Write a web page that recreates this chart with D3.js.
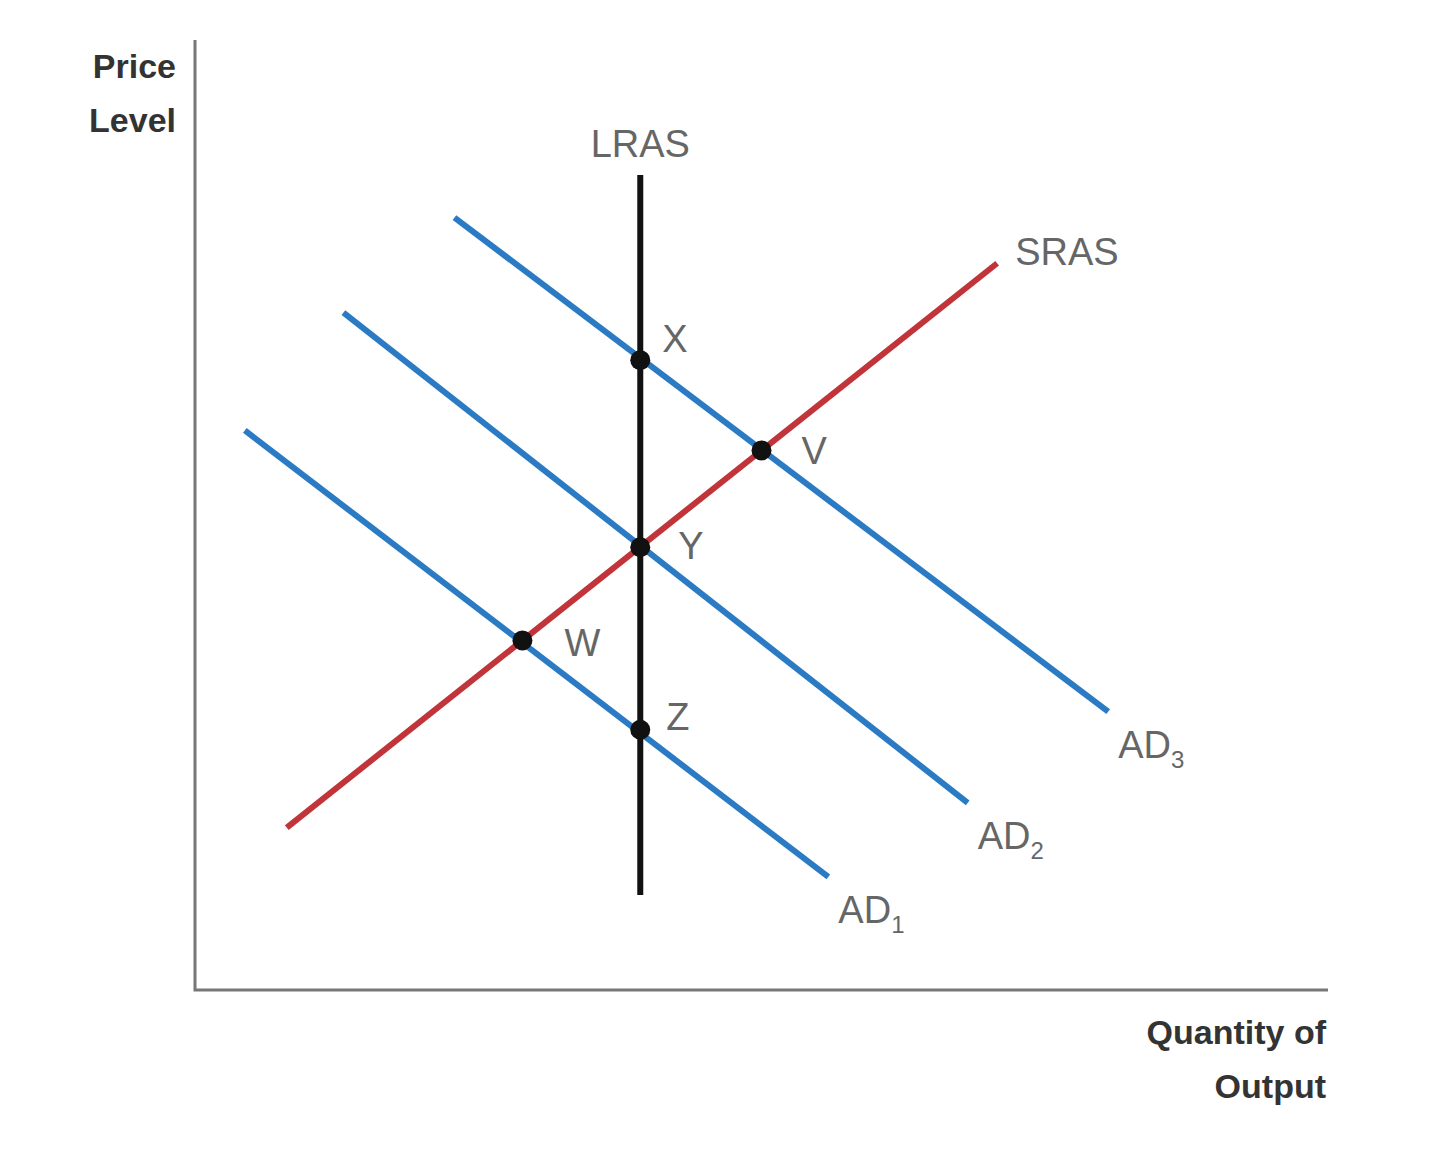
<!DOCTYPE html>
<html><head><meta charset="utf-8">
<script src="https://cdn.jsdelivr.net/npm/d3@7"></script>
<style>body{margin:0;background:#fff}</style></head>
<body><svg id="c" width="1440" height="1152"></svg>
<script>
const lras = {name:"LRAS", x:[3.93,3.93], y:[8.58,1.0]};
const sras = {name:"SRAS", x:[0.81,7.08], y:[1.71,7.65]};
const adNames = ["AD1","AD2","AD3"];
const adX = [[0.44,5.59],[1.31,6.82],[2.29,8.06]];
const adY = [[5.89,1.19],[7.13,1.97],[8.13,2.93]];
const pointNames = ["X","V","Y","W","Z"];
const pointX = [3.93,5.00,3.93,2.89,3.93];
const pointY = [6.63,5.68,4.66,3.68,2.74];

const svg = d3.select("#c");
const x = d3.scaleLinear().domain([0,10]).range([195,1328]);
const y = d3.scaleLinear().domain([0,10]).range([990,40]);
const font = "'Liberation Sans Narrow','Liberation Sans',sans-serif";

svg.append("path").attr("d",`M${x(0)},${y(10)}V${y(0)}H${x(10)}`).attr("fill","none").attr("stroke","#777").attr("stroke-width",3);

function seg(xs,ys,color,w){
  svg.append("line").attr("x1",x(xs[0])).attr("y1",y(ys[0])).attr("x2",x(xs[1])).attr("y2",y(ys[1]))
    .attr("stroke",color).attr("stroke-width",w);
}
adX.forEach((xs,i)=>seg(xs,adY[i],"#2a7bc4",6));
seg(sras.x,sras.y,"#c0343a",6);
seg(lras.x,lras.y,"#111",6);

pointX.forEach((px,i)=>svg.append("circle").attr("cx",x(px)).attr("cy",y(pointY[i])).attr("r",10).attr("fill","#111"));

const lab = (t,px,py,anchor="start",size=38)=>svg.append("text").attr("x",px).attr("y",py).attr("text-anchor",anchor)
  .attr("font-family",font).attr("font-size",size).attr("fill","#666").text(t);
lab("LRAS",x(lras.x[0]),y(lras.y[0])-18,"middle");
lab("SRAS",x(sras.x[1])+18,y(sras.y[1])+2);
const pOff=[[22,-8],[40,14],[38,12],[42,16],[26,0]];
pointNames.forEach((n,i)=>lab(n,x(pointX[i])+pOff[i][0],y(pointY[i])+pOff[i][1]));
adNames.forEach((n,i)=>{
  const t=lab("",x(adX[i][1])+10,y(adY[i][1])+46);
  t.append("tspan").text(n.slice(0,2));
  t.append("tspan").attr("font-size",24).attr("dy",10).text(n.slice(2));
});

const title=(lines,px,py,anchor)=>{const t=svg.append("text").attr("text-anchor",anchor).attr("font-family","'Liberation Sans',sans-serif")
  .attr("font-weight","bold").attr("font-size",34).attr("fill","#333");
  lines.forEach((l,i)=>t.append("tspan").attr("x",px).attr("y",py+i*54).text(l));};
title(["Price","Level"],176,78,"end");
title(["Quantity of","Output"],1326,1044,"end");
</script></body></html>
